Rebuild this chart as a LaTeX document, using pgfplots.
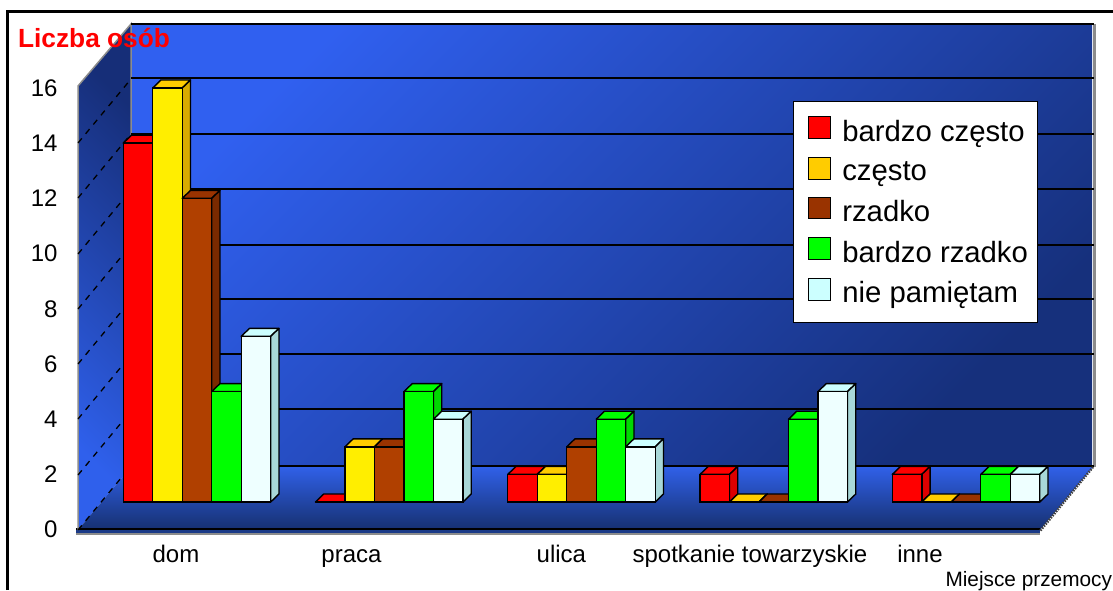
\documentclass[border=0pt]{standalone}
\usepackage{fontspec}
\setmainfont{Liberation Sans}
\usepackage{pgfplots}
\usepackage{pgfplotstable}
\pgfplotsset{compat=1.18}
\pgfdeclareplotmark{nil}{}
\definecolor{wallA}{HTML}{3060F0}
\definecolor{wallB}{HTML}{16307C}
\definecolor{lwA}{HTML}{2F60EC}
\definecolor{lwB}{HTML}{162E78}
\definecolor{flA}{HTML}{3060E8}
\definecolor{flB}{HTML}{16306F}
\definecolor{edge}{HTML}{8C8C8C}
\definecolor{yF}{HTML}{FFEE00}
\definecolor{yT}{HTML}{FFCC00}
\definecolor{yS}{HTML}{D8AC00}
\definecolor{bF}{HTML}{B04000}
\definecolor{bT}{HTML}{993300}
\definecolor{bS}{HTML}{7A2A00}
\definecolor{rS}{HTML}{DD0000}
\definecolor{gS}{HTML}{00D800}
\definecolor{wF}{HTML}{EEFFFF}
\definecolor{wT}{HTML}{CCFFFF}
\definecolor{wS}{HTML}{A8D8D8}
\pgfplotstableread{
cat val
0 13
1 0
2 1
3 1
4 1
}\tblA
\pgfplotstableread{
cat val
0 15
1 2
2 1
3 0
4 0
}\tblB
\pgfplotstableread{
cat val
0 11
1 2
2 2
3 0
4 0
}\tblC
\pgfplotstableread{
cat val
0 4
1 4
2 3
3 3
4 1
}\tblD
\pgfplotstableread{
cat val
0 6
1 3
2 2
3 4
4 1
}\tblE
\newcommand{\pxy}[2]{({(#1)*1pt},{(590-(#2))*1pt})}
\newcommand{\series}[6]{%
  \addplot[ybar, bar width=29.5pt, bar shift=#2pt, fill=#3, draw=black, line width=1.4pt,
    legend image code/.code={\path (0pt,0pt);\filldraw[fill=#4,draw=black,line width=.7pt] (8pt,-7pt) rectangle (30pt,14.5pt);}]
    table[x=cat,y=val]{#1};
  \addlegendentry{#6}
  \addplot[scatter, only marks, forget plot, mark=nil,
    visualization depends on={y \as \barval},
    scatter/@pre marker code/.code={%
      \filldraw[fill=#4,draw=black,line width=1.4pt,line join=round] (-14.75pt,0pt)--(14.75pt,0pt)--(23pt,8pt)--(-6.5pt,8pt)--cycle;
      \filldraw[fill=#5,draw=black,line width=1.4pt,line join=round] (14.75pt,0pt)--(23pt,8pt)--({23pt},{(8-\barval*27.6)*1pt})--({14.75pt},{(-\barval*27.6)*1pt})--cycle;
      \filldraw[fill=#3,draw=black,line width=1.4pt] (-14.75pt,0pt) rectangle ({14.75pt},{(-\barval*27.6)*1pt});
    },
    scatter/@post marker code/.code={}]
    table[x expr={\thisrow{cat}+(#2)/192.3},y=val]{#1};
}
\begin{document}
\begin{tikzpicture}
\begin{axis}[name=a,
  at={(0,0)}, anchor=south west,
  scale only axis, width=1113pt, height=590pt,
  xmin=-1.02444, xmax=4.76443, ymin=-3.18841, ymax=18.18841,
  axis line style={draw=none}, tick style={draw=none},
  xtick={-0.1092,0.8034,1.8955,2.8763,3.7603},
  xticklabels={dom,praca,ulica,spotkanie towarzyskie,inne},
  ytick={-1,1,3,5,7,9,11,13,15},
  yticklabels={0,2,4,6,8,10,12,14,16},
  ticklabel style={font=\fontsize{24}{28}\selectfont},
  xticklabel style={anchor=base,yshift=28pt},
  yticklabel style={anchor=east,xshift=61pt},
  xlabel={Miejsce przemocy},
  ylabel={Liczba osób},
  every axis x label/.style={at={(rel axis cs:0.84996,0)},anchor=base west,xshift=-4pt,yshift=3.5pt,font=\fontsize{20.8}{24}\selectfont},
  every axis y label/.style={at={(rel axis cs:0,1)},anchor=base west,xshift=14.5pt,yshift=-48pt,font=\fontsize{26.3}{30}\selectfont\bfseries,text=red},
  legend style={at={(axis cs:3.0993,14.529)},anchor=north west,draw=black,fill=white,line width=.8pt,
    inner xsep=6pt,inner ysep=15pt,row sep=11.5pt,column sep=9pt,
    font=\fontsize{29.3}{34}\selectfont,
    nodes={inner sep=3pt}},
  legend cell align=left,
  clip=false,
]
% frame
\draw[line width=3pt,black] \pxy{7.5}{590}--\pxy{7.5}{11.5}--\pxy{1113}{11.5};
% back wall
\shade[top color=wallA,bottom color=wallB,shading angle=45] \pxy{131}{24} rectangle \pxy{1092}{467};
% left wall
\shade[top color=lwB,bottom color=lwA,shading angle=-45] \pxy{78}{86}--\pxy{131}{24}--\pxy{131}{467}--\pxy{78}{530}--cycle;
% floor
\shade[top color=flA,bottom color=flB] \pxy{131}{467}--\pxy{1093}{467}--\pxy{1040}{530}--\pxy{78}{530}--cycle;
\fill[fill=flB!80!flA] \pxy{76}{529}rectangle\pxy{1040}{533};
\draw[edge,line width=1.5pt] \pxy{76}{534}--\pxy{1040}{534};
\draw[black,line width=1.5pt] \pxy{76}{529}--\pxy{1040}{529};
% wall edges
\draw[edge,line width=1.5pt] \pxy{78}{530}--\pxy{78}{86}--\pxy{131}{24}--\pxy{131}{467};
\draw[edge,line width=3pt] \pxy{1094}{24}--\pxy{1094}{467};
% grid on back wall
\draw[black,line width=1.5pt] \pxy{131}{24}--\pxy{1094}{24};
\pgfplotsinvokeforeach{78,134,189,245,299,354,409,466}{
  \draw[black,line width=1.5pt] \pxy{131}{#1}--\pxy{1094}{#1};
}
% dashes on side wall
\pgfplotsinvokeforeach{143,198,254,309,364,419,475,530}{
  \draw[black,line width=1.3pt,dash pattern=on 6pt off 6pt] \pxy{78}{#1}--\pxy{131}{#1-64};
}
% right floor edge
\draw[black!75,line width=2.5pt,dash pattern=on 1.5pt off 1.2pt] \pxy{1093}{467}--\pxy{1040}{531};
% series
\series{\tblA}{-59}{red}{red}{rS}{bardzo często}
\series{\tblB}{-29.5}{yF}{yT}{yS}{często}
\series{\tblC}{0}{bF}{bT}{bS}{rzadko}
\series{\tblD}{29.5}{green}{green}{gS}{bardzo rzadko}
\series{\tblE}{59}{wF}{wT}{wS}{nie pamiętam}
\end{axis}
\pgfresetboundingbox
\useasboundingbox (a.south west) rectangle (a.north east);
\end{tikzpicture}
\end{document}
